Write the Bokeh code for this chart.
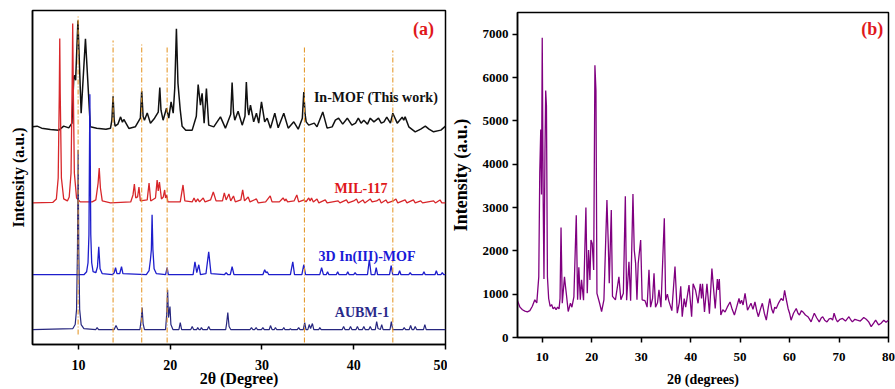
from bokeh.plotting import figure
from bokeh.layouts import row, column
from bokeh.models import Range1d, FixedTicker
from bokeh.embed import file_html
from bokeh.resources import INLINE
from bokeh.core.properties import value

SERIF = "Liberation Serif"

# ---------------- Panel (a) data: 2theta (deg) and intensity above each trace's baseline (a.u.)
inmof_x = [5.0, 5.5, 6.0, 6.95, 7.87, 8.4, 8.95, 9.3, 9.5, 9.6, 9.7, 9.95, 10.3, 10.77, 11.3, 12.0, 13.0,
           13.5, 13.65, 13.78, 13.9, 14.0, 14.3, 14.6, 14.8, 14.95, 15.5, 16.2, 16.75, 16.9, 17.05, 17.2,
           17.5, 17.85, 18.3, 18.7, 18.87, 19.0, 19.23, 19.6, 19.85, 20.1, 20.33, 20.5, 20.68, 20.85, 21.1,
           21.3, 21.7, 22.4, 22.85, 23.05, 23.3, 23.48, 23.7, 23.95, 24.2, 24.75, 25.48, 26.02, 26.6, 26.75,
           26.9, 27.04, 27.4, 27.85, 28.15, 28.3, 28.45, 28.57, 28.75, 29.1, 29.4, 29.65, 29.95, 30.3, 30.57,
           30.93, 31.4, 31.77, 32.38, 32.86, 33.47, 33.95, 34.4, 34.56, 34.7, 34.82, 35.1, 35.7, 36.0, 36.63,
           37.1, 37.65, 38.0, 38.35, 38.8, 39.3, 39.8, 40.2, 40.5, 40.8, 41.1, 41.5, 41.8, 42.2, 42.7, 43.0,
           43.3, 43.6, 44.0, 44.26, 44.74, 45.28, 45.45, 45.6, 46.0, 46.7, 47.3, 47.8, 48.2, 48.7, 49.5, 50.0]
inmof_y = [1.3, 2, 0, -1.3, -2, 2, 0.3, 5, 51, 53, 48, 108, 15, 89.7, 1.3, 0, -1,
           0, 8, 32, 8, 2, 4, 11.3, 6, 8.7, -0.3, 1.3, 10, 37.3, 12, 8,
           15.3, 5, 10, 16, 40.7, 18, 8, 20, 10, 26.3, 15, 40, 99.7, 45, 18,
           2, -2, -2, 12, 43.7, 23, 35, 5, 39.7, 3, 1.3, 11.3, 0, 14, 45.7,
           16, 8, 17, 3, 12, 46.3, 20, 13, 23, 6.3, 15, 5, 26.3, 6.3, 10,
           0, 15, 0.3, 15, 0, 6.3, -1, 10, 36.3, 14, 6.3, 3, 5, 1.3, 16.3,
           0, 1.3, 8, 10, 4, 10, 3, 5, 10, 5, 8, 4, 10, 6.3, 10, 5,
           6.3, 11, 5, 15, 5, 11, 8, 11.3, 1.3, -3.7, -1, 2, -1, -3.7, -2, 2]

mil_x = [5.0, 7.2, 7.6, 7.8, 7.92, 7.97, 8.02, 8.15, 8.4, 8.8, 9.0, 9.2, 9.32, 9.38, 9.44, 9.56, 9.8,
         10.2, 11.5, 11.9, 12.15, 12.27, 12.4, 12.6, 13.5, 15.7, 15.95, 16.1, 16.25, 16.45, 16.6, 16.75,
         17.5, 17.7, 17.88, 18.4, 18.58, 18.7, 18.83, 19.05, 19.25, 19.4, 19.5, 19.62, 19.75, 21.1, 21.4,
         21.6, 22.4, 22.6, 22.8, 23.0, 23.2, 23.6, 23.8, 24.4, 24.7, 25.0, 25.7, 25.9, 26.1, 26.4, 26.6,
         26.9, 27.1, 27.7, 27.9, 28.1, 28.5, 28.7, 29.4, 29.6, 30.4, 30.9, 31.1, 31.9, 32.3, 32.5, 32.6,
         32.8, 33.5, 33.8, 34.0, 34.6, 34.8, 35.1, 35.25, 35.4, 35.6, 36.0, 36.2, 36.9, 37.1, 38.3, 38.5,
         39.2, 39.4, 40.0, 40.3, 40.5, 41.0, 41.2, 41.8, 42.0, 42.5, 42.8, 43.0, 43.5, 43.7, 44.3, 44.6,
         44.8, 45.6, 45.8, 46.5, 46.7, 47.3, 47.5, 48.7, 48.9, 49.4, 49.6, 50.0]
mil_y = [0, 0.5, 4, 25, 110, 165, 110, 25, 4, 2, 6, 30, 120, 180, 120, 30, 5,
         1, 1, 3, 20, 35, 15, 2, 0, 1, 8, 19, 5, 6, 16, 2,
         3, 20, 2, 5, 23, 12, 21, 4, 6, 13, 5, 8, 1, 1, 18,
         2, 1, 5, 1, 4, 1, 5, 1, 3, 11, 2, 2, 10, 3, 9, 2,
         7, 1, 3, 13, 2, 6, 1, 4, 0, 1, 7, 1, 1, 5, 2, 4,
         1, 2, 8, 1, 3, 1, 5, 2, 5, 1, 4, 0, 3, 0, 2, 0,
         3, 0, 2, 4, 0, 3, 0, 4, 1, 2, 4, 0, 3, 0, 2, 4,
         0, 3, 0, 3, 0, 2, 0, 2, 0, 3, 0, 0]

in3d_x = [5.0, 10.6, 10.9, 11.05, 11.15, 11.25, 11.35, 11.45, 11.6, 11.9, 12.08, 12.22, 12.36, 12.6, 13.7,
          13.9, 14.05, 14.2, 14.5, 14.7, 14.85, 17.4, 17.7, 17.85, 17.95, 18.03, 18.12, 18.25, 18.5, 19.5,
          19.67, 19.8, 22.5, 22.7, 22.9, 23.12, 23.3, 23.9, 24.2, 24.45, 25.9, 26.1, 26.3, 26.55, 26.75,
          26.95, 30.1, 30.3, 30.45, 30.57, 30.75, 33.1, 33.36, 33.55, 34.35, 34.56, 34.75, 36.3, 36.5,
          36.7, 37.0, 37.15, 37.3, 38.1, 38.25, 38.4, 39.2, 39.35, 39.5, 40.0, 40.15, 40.3, 41.5, 41.7,
          41.9, 42.3, 42.45, 42.6, 43.9, 44.08, 44.25, 44.85, 45.0, 45.15, 46.0, 46.15, 46.3, 47.5, 47.65,
          47.8, 48.85, 49.0, 49.15, 49.5, 49.65, 49.8, 50.0]
in3d_y = [0, 0, 3, 12, 40, 181, 40, 12, 3, 2, 8, 28, 6, 1, 0,
          2, 7, 1, 1, 8, 1, 0, 4, 15, 25, 60, 25, 6, 1, 0,
          7, 0, 0, 13, 2, 10, 0, 1, 23, 1, 0, 2, 0, 0, 8,
          0, 0, 5, 2, 3, 0, 0, 13, 0, 0, 10, 0, 0, 7,
          0, 0, 3, 0, 0, 3, 0, 0, 3, 0, 0, 2, 0, 0, 15,
          0, 0, 7, 0, 0, 9, 0, 0, 4, 0, 0, 2, 0, 0, 3,
          0, 0, 4, 0, 0, 2, 0, 0]

aubm_x = [5.0, 9.4, 9.65, 9.8, 9.9, 9.97, 10.04, 10.14, 10.3, 10.6, 11.9, 12.04, 12.2, 13.9, 14.1, 14.3,
          16.7, 16.85, 16.94, 17.05, 17.2, 19.5, 19.62, 19.72, 19.82, 19.9, 19.98, 20.08, 20.3, 20.95,
          21.1, 21.25, 22.25, 22.4, 22.55, 22.9, 23.0, 23.15, 23.3, 23.4, 23.55, 24.05, 24.2, 24.35, 26.05,
          26.15, 26.28, 26.42, 26.6, 28.7, 28.86, 29.0, 29.2, 29.37, 29.5, 29.95, 30.1, 30.25, 30.8, 30.93,
          31.1, 31.35, 31.47, 31.6, 32.25, 32.38, 32.5, 33.0, 33.1, 33.2, 33.85, 34.0, 34.15, 34.5, 34.66,
          34.8, 35.0, 35.15, 35.3, 35.5, 35.65, 36.2, 36.3, 36.45, 38.75, 38.9, 39.05, 39.5, 39.65, 39.8,
          40.25, 40.4, 40.55, 40.95, 41.1, 41.25, 41.65, 41.8, 41.95, 42.35, 42.5, 42.65, 42.9, 43.05, 43.2,
          43.95, 44.1, 44.25, 45.35, 45.5, 45.65, 46.05, 46.2, 46.35, 46.55, 46.7, 46.85, 47.6, 47.75, 47.9,
          50.0]
aubm_y = [0, 1, 5, 20, 80, 180, 80, 20, 5, 1, 0, 2, 0, 0, 4, 0,
          0, 10, 22, 6, 0, 0, 15, 40, 12, 18, 23, 5, 0, 0,
          7, 0, 0, 3, 0, 0, 2, 0, 0, 2, 0, 0, 3, 0, 0,
          6, 17, 3, 0, 0, 2, 0, 0, 2, 0, 0, 2, 0, 0, 4,
          0, 0, 2, 0, 0, 2, 0, 0, 1, 0, 0, 2, 0, 0, 7,
          0, 0, 5, 1, 6, 0, 0, 2, 0, 0, 3, 0, 0, 3, 0,
          0, 3, 0, 0, 3, 0, 0, 3, 0, 0, 8, 1, 0, 5, 0,
          0, 8, 0, 0, 2, 0, 0, 4, 0, 0, 3, 0, 0, 5, 0,
          0]

trace_names = ["In-MOF (This work)", "MIL-117", "3D In(III)-MOF", "AUBM-1"]
trace_offsets = [217, 142, 70, 15]

ref_lines_x = [9.97, 13.78, 16.9, 19.67, 34.63, 44.26]
ref_lines_top = [329, 305, 302, 300, 300, 295]
ref_lines_bottom = [10, 2, 2, 2, 2, 2]

# ---------------- Panel (b) data
b_x = [5.0, 5.5, 6.0, 6.5, 7.0, 7.5, 8.0, 8.5, 8.9, 9.3, 9.5, 9.7, 9.85, 10.0, 10.2, 10.35, 10.55, 10.7,
       10.85, 11.05, 11.3, 11.6, 11.9, 12.2, 12.5, 12.8, 13.1, 13.4, 13.6, 13.8, 14.05, 14.5, 14.7, 14.9,
       15.25, 15.7, 16.0, 16.4, 16.88, 17.15, 17.4, 17.7, 17.95, 18.35, 18.83, 19.1, 19.37, 19.64, 19.85,
       20.1, 20.4, 20.65, 20.86, 21.06, 21.6, 22.0, 22.47, 23.08, 23.35, 23.55, 23.96, 24.2, 24.8, 25.5,
       25.9, 26.4, 26.8, 27.06, 27.53, 27.87, 28.34, 28.6, 28.88, 29.15, 29.4, 29.9, 30.2, 30.77, 31.2,
       31.58, 31.9, 32.3, 32.6, 32.9, 33.3, 33.6, 34.0, 34.68, 34.95, 35.3, 35.6, 36.2, 36.84, 37.3, 37.7,
       38.0, 38.3, 38.7, 39.0, 39.67, 40.2, 40.5, 41.0, 41.5, 41.95, 42.2, 42.4, 42.8, 43.3, 43.8, 44.3,
       44.97, 45.4, 45.6, 45.8, 46.1, 46.5, 46.96, 47.4, 47.97, 48.4, 48.85, 49.3, 49.78, 50.0, 50.3,
       50.6, 51.0, 51.5, 51.9, 52.2, 52.6, 53.0, 53.4, 53.7, 54.1, 54.5, 54.9, 55.3, 55.7, 56.0, 56.4,
       56.7, 57.0, 57.3, 57.8, 58.3, 58.7, 59.0, 59.3, 59.7, 60.0, 60.3, 60.8, 61.35, 61.7, 62.0, 62.4,
       62.7, 63.2, 63.7, 64.0, 64.35, 64.7, 65.0, 65.5, 66.0, 66.4, 66.7, 67.1, 67.56, 68.0, 68.4, 68.7,
       69.0, 69.4, 69.7, 70.2, 70.7, 71.3, 72.0, 72.3, 72.7, 73.2, 73.7, 74.3, 75.0, 75.5, 76.0, 76.5,
       77.0, 77.4, 78.0, 78.5, 79.05, 79.5, 80.0]
b_y = [850, 700, 640, 610, 590, 620, 720, 870, 800, 1400, 3800, 4800, 3300, 6920, 3100, 1350, 4250, 5700,
       5350, 1400, 900, 720, 760, 660, 700, 640, 700, 660, 900, 2540, 790, 1400, 1180, 980,
       600, 790, 700, 940, 2820, 870, 1620, 870, 1330, 860, 3000, 1020, 2020, 1330, 2250,
       2170, 1560, 6280, 5700, 1020, 790, 600, 870, 3170, 2170, 1250, 2940, 950, 870, 1400,
       870, 1020, 3260, 860, 1750, 850, 3310, 2020, 1710, 870, 1710, 2250, 870, 850, 700,
       1560, 700, 900, 1480, 700, 800, 1100, 700, 2750, 860, 1000, 840, 620, 1640, 560, 800,
       1180, 480, 900, 700, 1210, 480, 1240, 1090, 790, 1240, 900, 1240, 590, 1240, 550, 1590,
       670, 1350, 1100, 1350, 520, 640, 590, 700, 820, 650, 520, 700, 900, 780, 860,
       750, 1020, 630, 720, 790, 650, 820, 600, 480, 650, 790, 560, 400, 700, 900, 650,
       560, 700, 670, 800, 900, 850, 1090, 900, 670, 560, 400, 560, 670, 560, 520, 620,
       590, 520, 480, 430, 360, 470, 560, 450, 360, 450, 480, 400, 360, 430, 440, 400,
       560, 420, 360, 420, 440, 380, 480, 420, 360, 420, 400, 380, 460, 420, 360, 250,
       330, 400, 290, 330, 400, 350, 400]

b_xticks = [10, 20, 30, 40, 50, 60, 70, 80]
b_yticks = [0, 1000, 2000, 3000, 4000, 5000, 6000, 7000]
a_xticks = [10, 20, 30, 40, 50]


def style_axis(ax, tick_size, title_size):
    ax.axis_line_width = 1.5
    ax.axis_line_color = "black"
    ax.major_tick_line_width = 1.5
    ax.major_tick_line_color = "black"
    ax.major_tick_out = 5
    ax.major_tick_in = 0
    ax.minor_tick_out = 0
    ax.minor_tick_in = 0
    ax.major_label_text_font = SERIF
    ax.major_label_text_font_style = "bold"
    ax.major_label_text_font_size = tick_size
    ax.major_label_text_color = "black"
    ax.axis_label_text_font = SERIF
    ax.axis_label_text_font_style = "bold"
    ax.axis_label_text_font_size = title_size
    ax.axis_label_text_color = "black"


# ---------------- Panel (a)
pa = figure(width=447, height=389, x_range=Range1d(5, 50), y_range=Range1d(0, 335),
            output_backend="svg", toolbar_location=None,
            min_border_left=32, min_border_right=2, min_border_top=10, min_border_bottom=44,
            x_axis_label="2θ (Degree)", y_axis_label="Intensity (a.u.)")
pa.xgrid.visible = False
pa.ygrid.visible = False
pa.outline_line_color = "black"
pa.outline_line_width = 1.5
pa.outline_line_alpha = 1.0
style_axis(pa.xaxis[0], "14px", "16px")
style_axis(pa.yaxis[0], "14px", "16px")
pa.xaxis.ticker = FixedTicker(ticks=a_xticks)
pa.yaxis.ticker = FixedTicker(ticks=[])
pa.yaxis.major_tick_out = 0
pa.yaxis.major_label_standoff = 0
pa.yaxis.axis_label_standoff = 6
pa.xaxis.major_label_standoff = 10
pa.xaxis.axis_label_standoff = -3

series = [(inmof_x, inmof_y), (mil_x, mil_y), (in3d_x, in3d_y), (aubm_x, aubm_y)]
line_colors = ["#111111", "#D8262A", "#1E1ECC", "#27277F"]
line_widths = [1.5, 1.3, 1.3, 1.2]
for (xs, ys), off, c, w in zip(series, trace_offsets, line_colors, line_widths):
    pa.line(xs, [off + v for v in ys], line_color=c, line_width=w)

pa.segment(x0=ref_lines_x, y0=ref_lines_bottom, x1=ref_lines_x, y1=ref_lines_top,
           line_color="#E59A2E", line_width=1.1, line_dash="5 2 1 2")

label_x = [42.44, 40.8, 41.45, 40.9, 47.6]
label_y = [248, 156, 88, 32, 316]
label_text = trace_names + ["(a)"]
label_colors = ["#111111", "#E0181B", "#1A1AD8", "#2A2A8A", "#E0181B"]
label_sizes = ["14px", "14px", "14px", "14px", "18px"]
for lx, ly, lt, lc, ls in zip(label_x, label_y, label_text, label_colors, label_sizes):
    pa.text(x=[lx], y=[ly], text=[lt], text_font=value(SERIF), text_font_style="bold",
            text_font_size=ls, text_color=lc, text_align="center", text_baseline="middle")

# ---------------- Panel (b)
pb = figure(width=448, height=389, x_range=Range1d(5, 80), y_range=Range1d(0, 7500),
            output_backend="svg", toolbar_location=None,
            min_border_left=67, min_border_right=7, min_border_top=12, min_border_bottom=52,
            x_axis_label="2θ (degrees)", y_axis_label="Intensity (a.u.)")
pb.xgrid.visible = False
pb.ygrid.visible = False
pb.outline_line_color = "black"
pb.outline_line_width = 1.5
pb.outline_line_alpha = 1.0
style_axis(pb.xaxis[0], "13px", "14px")
style_axis(pb.yaxis[0], "13px", "18px")
pb.xaxis.ticker = FixedTicker(ticks=b_xticks)
pb.yaxis.ticker = FixedTicker(ticks=b_yticks)
pb.xaxis.major_label_standoff = 10
pb.xaxis.axis_label_standoff = 8
pb.yaxis.major_label_standoff = 4
pb.yaxis.axis_label_standoff = 9

pb.line(b_x, b_y, line_color="#800080", line_width=1.3)
pb.text(x=[76.7], y=[7115], text=["(b)"], text_font=value(SERIF), text_font_style="bold",
        text_font_size="18px", text_color="#E0181B", text_align="center", text_baseline="middle")

layout = row(column(pa), column(pb))
open("out.html", "w").write(file_html(layout, INLINE))
